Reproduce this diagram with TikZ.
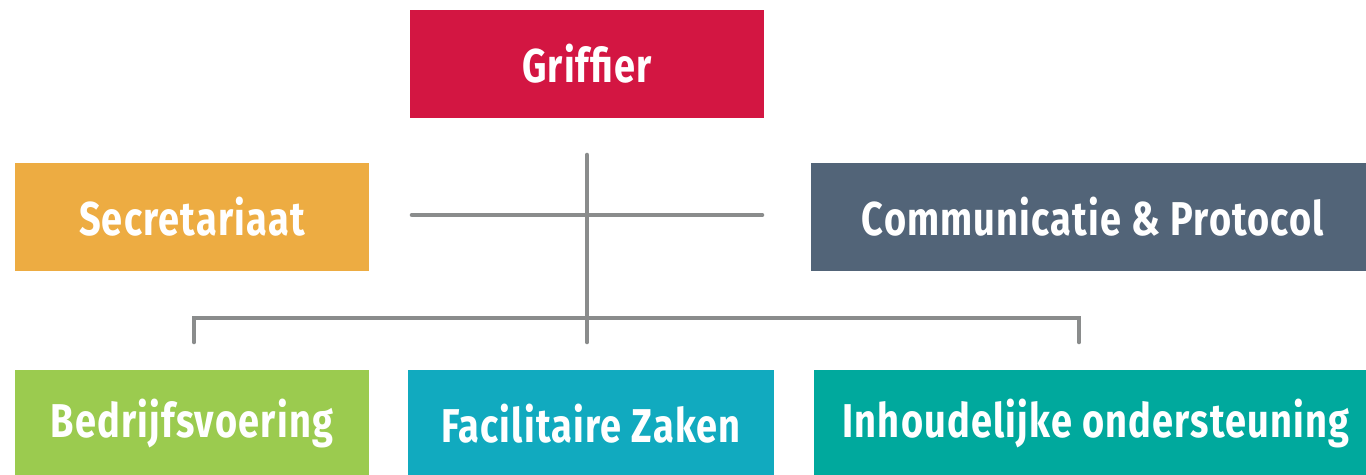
\documentclass[tikz,border=0pt]{standalone}
\usepackage{fontspec}
\setmainfont{Fira Sans}[FakeStretch=0.8,LetterSpace=2.5]
\definecolor{griffred}{HTML}{D31642}
\definecolor{secorange}{HTML}{EDAC42}
\definecolor{comslate}{HTML}{526478}
\definecolor{bedrgreen}{HTML}{9BCB4F}
\definecolor{facicyan}{HTML}{11AABF}
\definecolor{inhteal}{HTML}{00A99D}
\definecolor{linegray}{HTML}{8A8C8C}
\begin{document}
\begin{tikzpicture}[x=0.02cm,y=-0.02cm,
  unit/.style={fill=#1,text=white,font=\fontsize{27}{30}\selectfont\bfseries,
    minimum height=108*0.02cm,inner sep=0pt,outer sep=0pt},
  link/.style={draw=linegray,line width=2.6pt,line cap=round}]

\useasboundingbox (0,0) rectangle (1366,474);
\clip (0,0) rectangle (1366,474);

\node [unit=griffred,minimum width=354*0.02cm] (griffier) at (587,64) {Griffier};
\node [unit=secorange,minimum width=354*0.02cm] (secr) at (192,217) {Secretariaat};
\node [unit=comslate,minimum width=564*0.02cm] (comm) at (1093,217) {Communicatie \& Protocol};
\node [unit=bedrgreen,minimum width=354*0.02cm] (bedr) at (192,424) {Bedrijfsvoering};
\node [unit=facicyan,minimum width=366*0.02cm] (faci) at (591,424) {Facilitaire Zaken};
\node [unit=inhteal,minimum width=564*0.02cm] (inh) at (1096,424) {Inhoudelijke ondersteuning};

% staff line
\coordinate (top) at (587,155);
\coordinate (staffl) at (412,215);
\coordinate (staffr) at (762,215);
\draw [link] (staffl) -- (staffr);

% line to the departments
\coordinate (mid) at (587,318);
\coordinate (dropl) at (194,342);
\coordinate (dropm) at (587,342);
\coordinate (dropr) at (1079,342);
\draw [link] (top) -- (dropm);
\draw [link] (dropl) |- (mid) -| (dropr);

\end{tikzpicture}
\end{document}
